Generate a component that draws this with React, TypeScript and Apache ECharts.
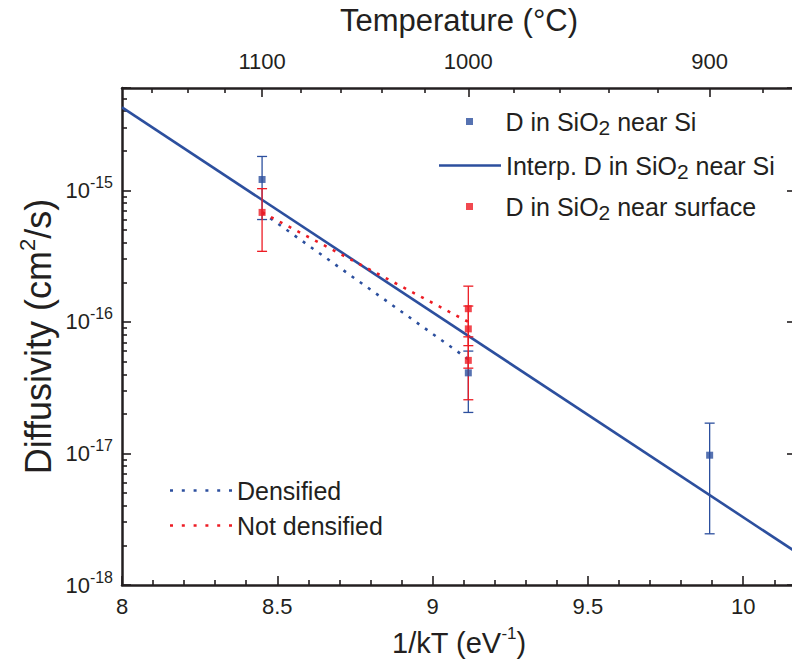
import React, { useEffect, useRef } from "react";
import * as echarts from "echarts";

// ---------- data ----------
const K_B = 8.617333e-5; // eV/K

// D in SiO2 near Si (blue squares)
const blueX = [8.451, 9.115, 9.892];
const blueY = [1.21e-15, 4.1e-17, 9.7e-18];
const blueLow = [6.0e-16, 2.05e-17, 2.45e-18];
const blueHigh = [1.81e-15, 6.0e-17, 1.7e-17];

// D in SiO2 near surface (red squares)
const redX = [8.451, 9.115, 9.115, 9.115];
const redY = [6.8e-16, 1.26e-16, 8.85e-17, 5.1e-17];
const redLow = [3.44e-16, 6.6e-17, 4.45e-17, 2.56e-17];
const redHigh = [1.03e-15, 1.87e-16, 1.32e-16, 7.7e-17];

// Interpolated line
const interpX = [8.0, 10.17];
const interpY = [4.27e-15, 1.78e-18];

// Dotted guides
const densX = [8.451, 9.115];
const densY = [6.8e-16, 5.2e-17];
const notDensX = [8.451, 9.115];
const notDensY = [6.8e-16, 1.0e-16];

// Axes
const X_MIN = 8;
const X_MAX = 10.17;
const Y_MIN = 1e-18;
const Y_MAX = 6e-15;
const xMajor = [8, 8.5, 9, 9.5, 10];
const xMinor = [8.1, 8.2, 8.3, 8.4, 8.6, 8.7, 8.8, 8.9, 9.1, 9.2, 9.3, 9.4, 9.6, 9.7, 9.8, 9.9, 10.1];
const tempMajor = [1100, 1000, 900];
const tempMinor = [1160, 1140, 1120, 1080, 1060, 1040, 1020, 980, 960, 940, 920, 880];
const yDecades = [-18, -17, -16, -15];
const yMinorMult = [2, 3, 4, 5, 6, 7, 8, 9];

// ---------- style ----------
const FONT = "'Liberation Sans', Arial, Helvetica, sans-serif";
const INK = "#231f20";
const BLUE = "#2c4f9e";
const RED = "#ed1c24";

const S_BLUE = "D in SiO2 near Si";
const S_INTERP = "Interp. D in SiO2 near Si";
const S_RED = "D in SiO2 near surface";
const S_DENS = "Densified";
const S_NOTDENS = "Not densified";

const invT = (c: number) => 1 / (K_B * (c + 273.15));
const toC = (v: number) => Math.round(1 / (K_B * v) - 273.15);

const tempMajorPos = tempMajor.map(invT);
const tempMinorPos = tempMinor.map(invT);
const yMinorExp: number[] = [];
yDecades.forEach((d) => yMinorMult.forEach((m) => {
  const e = d + Math.log10(m);
  if (e <= Math.log10(Y_MAX) + 1e-9) yMinorExp.push(e);
}));

const axisLineStyle = { color: INK, width: 2.5 };
const tickLineStyle = { color: INK, width: 1.6 };

const SQUARE_ICON = "path://M0,0L10,0L10,10L0,10Z";
const LINE_ICON = "path://M0,0L62,0L62,2.6L0,2.6Z";
const DOT_ICON =
  "path://M0,0h3v2.6h-3zM11.8,0h3v2.6h-3zM23.6,0h3v2.6h-3zM35.4,0h3v2.6h-3zM47.2,0h3v2.6h-3zM59,0h3v2.6h-3z";

function errorBarSeries(name: string, xs: number[], lo: number[], hi: number[], color: string) {
  return {
    type: "custom",
    name,
    z: 3,
    data: xs.map((x, i) => [x, lo[i], hi[i]]),
    encode: { x: 0, y: [1, 2] },
    renderItem: (_params: any, api: any) => {
      const x = api.value(0);
      const a = api.coord([x, api.value(1)]);
      const b = api.coord([x, api.value(2)]);
      const w = 5;
      const style = { stroke: color, lineWidth: 1.3 };
      return {
        type: "group",
        children: [
          { type: "line", shape: { x1: a[0], y1: a[1], x2: b[0], y2: b[1] }, style },
          { type: "line", shape: { x1: a[0] - w, y1: a[1], x2: a[0] + w, y2: a[1] }, style },
          { type: "line", shape: { x1: b[0] - w, y1: b[1], x2: b[0] + w, y2: b[1] }, style },
        ],
      };
    },
  };
}

function legendFor(name: string, icon: string, left: number, top: number) {
  return {
    orient: "vertical",
    selectedMode: false,
    left,
    top,
    padding: 0,
    itemWidth: 62,
    itemHeight: 7,
    symbolKeepAspect: true,
    formatter: (n: string) => n.replace("SiO2", "SiO{sub|2}"),
    textStyle: {
      fontSize: 25,
      color: INK,
      fontFamily: FONT,
      rich: {
        sub: { fontSize: 21, padding: [12, 0, 0, 0], color: INK, fontFamily: FONT },
      },
    },
    data: [{ name, icon, itemStyle: { borderWidth: 0 } }],
  };
}

function buildOption(): any {
  return {
    animation: false,
    backgroundColor: "#ffffff",
    textStyle: { fontFamily: FONT, color: INK },
    grid: { left: 122, top: 88, width: 674, height: 497, outerBoundsMode: "none" },
    legend: [
      // square icons sit centred in a 62px slot; the legend box starts at the square
      legendFor(S_BLUE, SQUARE_ICON, 466, 109),
      legendFor(S_INTERP, LINE_ICON, 439, 153),
      legendFor(S_RED, SQUARE_ICON, 466, 194),
      legendFor(S_DENS, DOT_ICON, 170, 478),
      legendFor(S_NOTDENS, DOT_ICON, 170, 513),
    ],
    xAxis: [
      {
        type: "value",
        position: "bottom",
        min: X_MIN,
        max: X_MAX,
        splitLine: { show: false },
        axisLine: { show: true, onZero: false, lineStyle: axisLineStyle },
        axisTick: { show: true, inside: true, length: 9, lineStyle: tickLineStyle, customValues: xMajor },
        axisLabel: {
          customValues: xMajor,
          margin: 10,
          fontSize: 22,
          color: INK,
          fontFamily: FONT,
          formatter: (v: number) => String(v),
        },
        name: "1/kT (eV{s|-1})",
        nameLocation: "middle",
        nameGap: 40,
        nameMoveOverlap: false,
        nameTextStyle: {
          fontSize: 29,
          color: INK,
          fontFamily: FONT,
          rich: { s: { fontSize: 17, padding: [0, 0, 18, 0], color: INK, fontFamily: FONT } },
        },
      },
      {
        type: "value",
        position: "bottom",
        min: X_MIN,
        max: X_MAX,
        splitLine: { show: false },
        axisLine: { show: false, onZero: false },
        axisTick: { show: true, inside: true, length: 5, lineStyle: tickLineStyle, customValues: xMinor },
        axisLabel: { show: false },
      },
      {
        type: "value",
        position: "top",
        min: X_MIN,
        max: X_MAX,
        splitLine: { show: false },
        axisLine: { show: true, onZero: false, lineStyle: axisLineStyle },
        axisTick: { show: true, inside: true, length: 9, lineStyle: tickLineStyle, customValues: tempMajorPos },
        axisLabel: {
          customValues: tempMajorPos,
          margin: 16,
          fontSize: 22,
          color: INK,
          fontFamily: FONT,
          formatter: (v: number) => String(toC(v)),
        },
        name: "Temperature (°C)",
        nameLocation: "middle",
        nameGap: 52,
        nameMoveOverlap: false,
        nameTextStyle: { fontSize: 31, color: INK, fontFamily: FONT },
      },
      {
        type: "value",
        position: "top",
        min: X_MIN,
        max: X_MAX,
        splitLine: { show: false },
        axisLine: { show: false, onZero: false },
        axisTick: { show: true, inside: true, length: 5, lineStyle: tickLineStyle, customValues: tempMinorPos },
        axisLabel: { show: false },
      },
    ],
    yAxis: [
      {
        type: "log",
        logBase: 10,
        position: "left",
        min: Y_MIN,
        max: Y_MAX,
        splitLine: { show: false },
        minorTick: { show: false },
        axisLine: { show: true, onZero: false, lineStyle: axisLineStyle },
        axisTick: { show: true, inside: true, length: 9, lineStyle: tickLineStyle },
        axisLabel: {
          margin: 9,
          fontSize: 22,
          color: INK,
          fontFamily: FONT,
          formatter: (v: number) => {
            const e = Math.log10(v);
            const r = Math.round(e);
            if (Math.abs(e - r) > 1e-6) return "";
            return `{b|10}{s|${r}}`;
          },
          rich: {
            b: { fontSize: 22, color: INK, fontFamily: FONT },
            s: { fontSize: 16, padding: [0, 0, 16, 0], color: INK, fontFamily: FONT },
          },
        },
        name: "Diffusivity (cm{s|2}/s)",
        nameLocation: "middle",
        nameGap: 62,
        nameMoveOverlap: false,
        nameTextStyle: {
          fontSize: 36,
          color: INK,
          fontFamily: FONT,
          rich: { s: { fontSize: 22, padding: [0, 0, 22, 0], color: INK, fontFamily: FONT } },
        },
      },
      {
        type: "log",
        logBase: 10,
        position: "right",
        min: Y_MIN,
        max: Y_MAX,
        splitLine: { show: false },
        minorTick: { show: false },
        axisLine: { show: true, onZero: false, lineStyle: axisLineStyle },
        axisTick: { show: true, inside: true, length: 9, lineStyle: tickLineStyle },
        axisLabel: { show: false },
      },
      {
        type: "value",
        position: "left",
        min: -18,
        max: Math.log10(Y_MAX),
        splitLine: { show: false },
        axisLine: { show: false, onZero: false },
        axisTick: { show: true, inside: true, length: 5, lineStyle: tickLineStyle, customValues: yMinorExp },
        axisLabel: { show: false },
      },
    ],
    series: [
      {
        type: "line",
        name: S_INTERP,
        z: 2,
        color: BLUE,
        symbol: "none",
        lineStyle: { color: BLUE, width: 2.6 },
        data: interpX.map((x, i) => [x, interpY[i]]),
      },
      {
        type: "line",
        name: S_DENS,
        z: 2,
        color: BLUE,
        symbol: "none",
        lineStyle: { color: BLUE, width: 2.6, type: [3, 7] },
        data: densX.map((x, i) => [x, densY[i]]),
      },
      {
        type: "line",
        name: S_NOTDENS,
        z: 2,
        color: RED,
        symbol: "none",
        lineStyle: { color: RED, width: 2.6, type: [3, 7] },
        data: notDensX.map((x, i) => [x, notDensY[i]]),
      },
      errorBarSeries("err-near-si", blueX, blueLow, blueHigh, BLUE),
      errorBarSeries("err-near-surface", redX, redLow, redHigh, RED),
      {
        type: "scatter",
        name: S_BLUE,
        z: 4,
        color: BLUE,
        symbol: "rect",
        symbolSize: 7,
        data: blueX.map((x, i) => [x, blueY[i]]),
      },
      {
        type: "scatter",
        name: S_RED,
        z: 4,
        color: RED,
        symbol: "rect",
        symbolSize: 7,
        data: redX.map((x, i) => [x, redY[i]]),
      },
    ],
  };
}

export default function App() {
  const ref = useRef<HTMLDivElement>(null);
  useEffect(() => {
    document.body.style.margin = "0";
    if (!ref.current) return;
    const chart = echarts.init(ref.current, null, { renderer: "svg" });
    chart.setOption(buildOption());
    return () => chart.dispose();
  }, []);
  return <div ref={ref} style={{ width: 792, height: 661 }} />;
}
